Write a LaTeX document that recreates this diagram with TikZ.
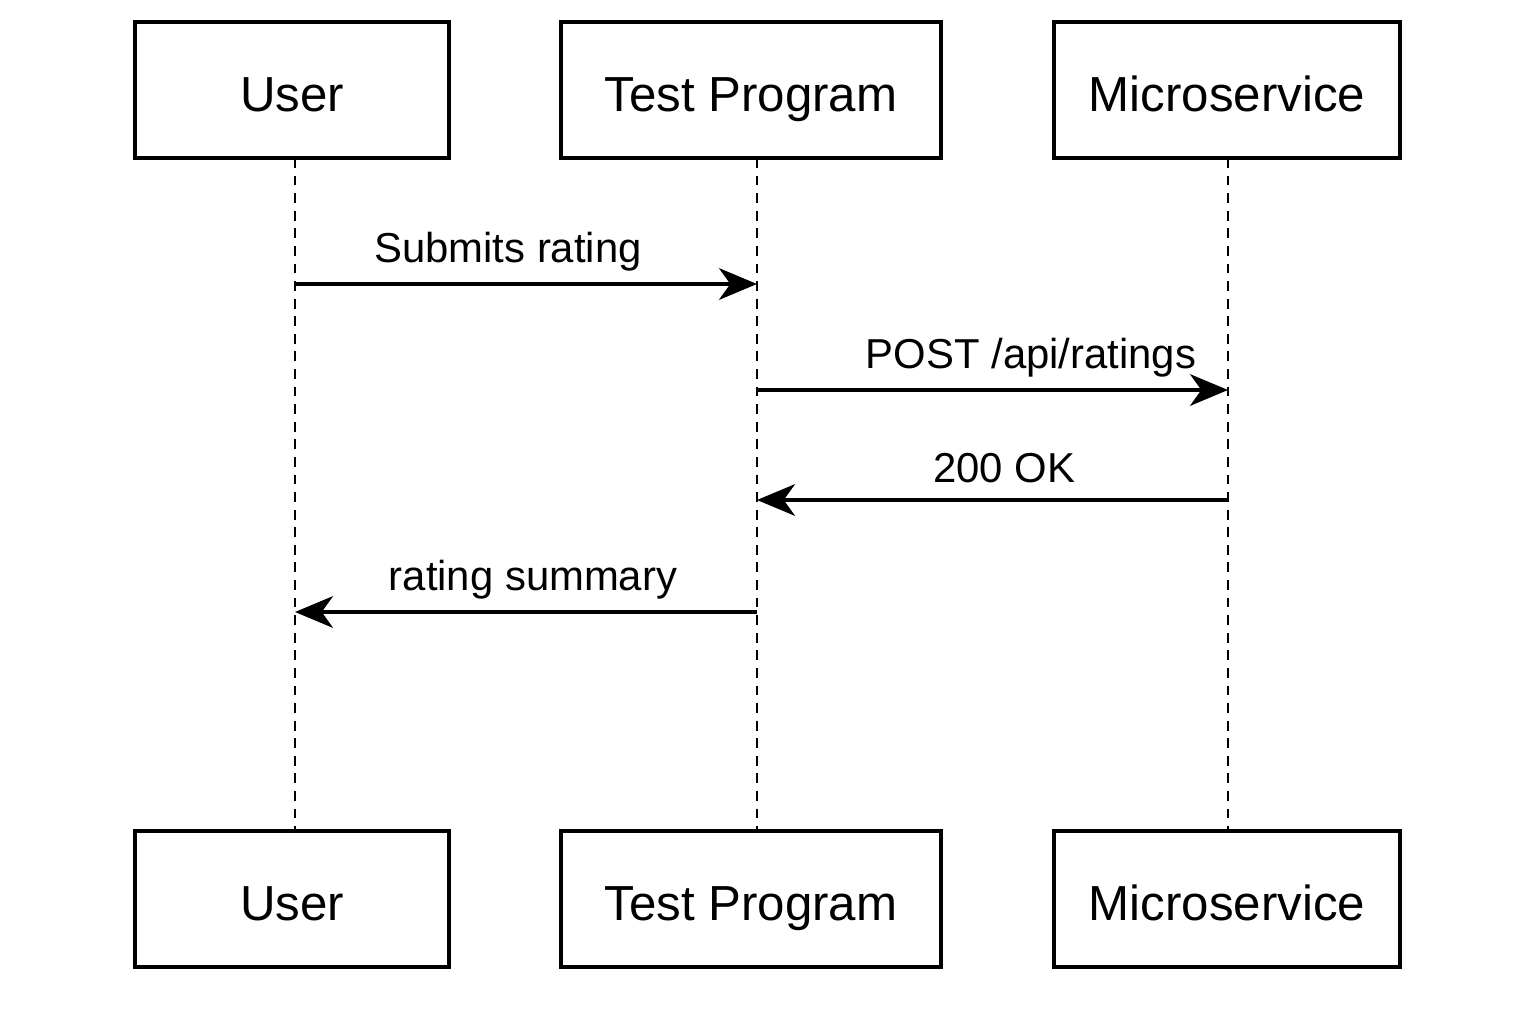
\documentclass[tikz,border=0pt]{standalone}
\usepackage{fontspec}
\setmainfont{Liberation Sans}
\usetikzlibrary{arrows.meta}
\begin{document}
\begin{tikzpicture}[x=0.01cm,y=-0.01cm,
  actor/.style={draw=black,line width=0.9pt,minimum height=136*0.01cm,inner sep=0pt,text height=12pt,text depth=0pt,font=\fontsize{14}{16}\selectfont},
  life/.style={line width=0.75pt,dash pattern=on 2.8pt off 2.2pt},
  msg/.style={line width=0.95pt,-{Stealth[length=10.8pt,width=9pt,inset=3.2pt]}},
  lbl/.style={font=\fontsize{11.9}{14}\selectfont,inner sep=0pt}]
\useasboundingbox (0,0) rectangle (1536,1024);
% top actors
\node[actor,minimum width=314*0.01cm] (u1) at (292,90) {User};
\node[actor,minimum width=380*0.01cm] (t1) at (751,90) {Test Program};
\node[actor,minimum width=346*0.01cm] (m1) at (1227,90) {Microservice};
% bottom actors
\node[actor,minimum width=314*0.01cm] (u2) at (292,899) {User};
\node[actor,minimum width=380*0.01cm] (t2) at (751,899) {Test Program};
\node[actor,minimum width=346*0.01cm] (m2) at (1227,899) {Microservice};
% lifeline coordinates
\coordinate (uA) at (295,158); \coordinate (uB) at (295,831);
\coordinate (tA) at (757,158); \coordinate (tB) at (757,831);
\coordinate (mA) at (1228,158); \coordinate (mB) at (1228,831);
\draw[life] (uA) -- (uB);
\draw[life] (tA) -- (tB);
\draw[life] (mA) -- (mB);
% message points
\coordinate (u284) at (295,284); \coordinate (t284) at (757,284);
\coordinate (t390) at (757,390); \coordinate (m390) at (1228,390);
\coordinate (m500) at (1228,500); \coordinate (t500) at (757,500);
\coordinate (t612) at (757,612); \coordinate (u612) at (295,612);
\draw[msg] (u284) -- (t284);
\draw[msg] (t390) -- (m390);
\draw[msg] (m500) -- (t500);
\draw[msg] (t612) -- (u612);
% labels
\node[lbl] (l1) at (508,252) {Submits rating};
\node[lbl] (l2) at (1031,358) {POST /api/ratings};
\node[lbl] (l3) at (1004,468) {200 OK};
\node[lbl] (l4) at (533,580) {rating summary};
\end{tikzpicture}
\end{document}
